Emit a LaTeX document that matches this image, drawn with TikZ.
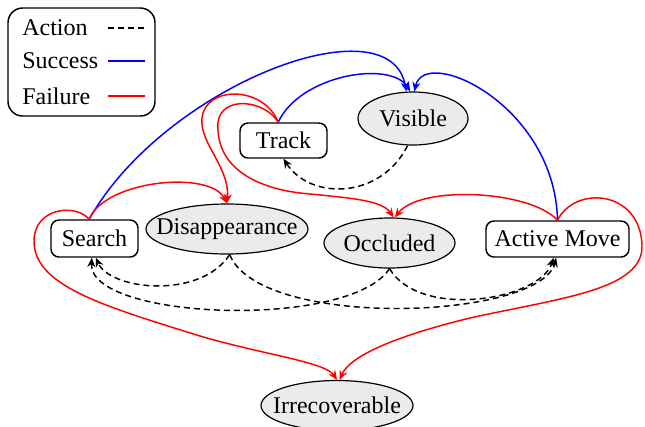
\documentclass[tikz,border=0pt]{standalone}
\usepackage{fontspec}
\setmainfont{Liberation Serif}
\usetikzlibrary{shapes.geometric,arrows.meta}
\definecolor{nodegray}{HTML}{EBEBEB}
\tikzset{
  every node/.style={font=\fontsize{18}{20}\selectfont},
  statebox/.style={draw, line width=1.1pt, rounded corners=6pt, inner sep=0pt, fill=white},
  stateell/.style={draw, ellipse, line width=0.9pt, fill=nodegray, inner sep=0pt},
  act/.style={draw=black, line width=1.1pt, dash pattern=on 4.5pt off 3pt, -{Stealth[length=7pt,width=6pt]}},
  succ/.style={draw=blue, line width=1.1pt, -{Stealth[length=7pt,width=6pt]}},
  fail/.style={draw=red, line width=1.1pt, -{Stealth[length=7pt,width=6pt]}},
  legtext/.style={anchor=west, inner sep=0pt},
}
\begin{document}
\begin{tikzpicture}[x=0.75pt,y=-0.75pt]
\useasboundingbox (0,0) rectangle (645,426);
% legend
\node[draw, line width=1.1pt, rounded corners=11pt, minimum width=110.25pt, minimum height=81pt, inner sep=0pt] (legend) at (81.5,62) {};
\node[legtext] (lA) at (22,28) {Action};
\node[legtext] (lS) at (22,61) {Success};
\node[legtext] (lF) at (22,96) {Failure};
\coordinate (a1) at (108,28); \coordinate (a2) at (145,28);
\coordinate (s1) at (108,61); \coordinate (s2) at (145,61);
\coordinate (f1) at (108,96); \coordinate (f2) at (145,96);
\draw[line width=1.1pt, dash pattern=on 4.5pt off 3pt] (a1) -- (a2);
\draw[line width=1.1pt, blue] (s1) -- (s2);
\draw[line width=1.1pt, red] (f1) -- (f2);
% nodes
\node[statebox, minimum width=65.25pt, minimum height=26.25pt] (track) at (283.5,140.5) {Track};
\node[stateell, minimum width=82.5pt, minimum height=39.75pt] (visible) at (413,118.5) {};
\node (visibleT) at (visible) {Visible};
\node[statebox, minimum width=65.25pt, minimum height=27.75pt] (search) at (94.5,238.5) {Search};
\node[stateell, minimum width=121.5pt, minimum height=37.5pt] (disap) at (227,229) {};
\node (disapT) at (disap) {Disappearance};
\node[stateell, minimum width=98.25pt, minimum height=37.5pt] (occl) at (389.5,243) {};
\node (occlT) at (occl) {Occluded};
\node[statebox, minimum width=107.25pt, minimum height=27pt] (active) at (557.5,239) {Active Move};
\node[stateell, minimum width=114pt, minimum height=37.5pt] (irrec) at (337,405.5) {};
\node (irrecT) at (irrec) {Irrecoverable};
% anchor points
\coordinate (sT) at ([xshift=-4pt]search.north);
\coordinate (tT) at ([xshift=-4pt]track.north);
\coordinate (aT) at (active.north);
% success
\draw[succ] (sT) .. controls (165,85) and (390,0) .. ([xshift=-5pt]visible.north);
\draw[succ] (tT) .. controls (300,75) and (390,60) .. ([xshift=-2pt]visible.north);
\draw[succ] (aT) .. controls (555,105) and (425,45) .. ([xshift=1pt]visible.north);
% failure
\draw[fail] (sT) .. controls (105,180) and (210,170) .. (disap.north);
\draw[fail] (sT) .. controls (75,203) and (35,208) .. (34,240)
  .. controls (33,285) and (100,305) .. (200,336)
  .. controls (265,355) and (325,362) .. (irrec.north);
\draw[fail] (tT) .. controls (265,88) and (212,85) .. (203,113)
  .. controls (195,140) and (230,165) .. (disap.north);
\draw[fail] (tT) .. controls (265,100) and (222,95) .. (218,122)
  .. controls (215,170) and (260,188) .. (300,193)
  .. controls (350,198) and (382,200) .. ([xshift=3pt]occl.north);
\draw[fail] (aT) .. controls (530,190) and (420,185) .. ([xshift=4pt]occl.north);
\draw[fail] (aT) .. controls (575,185) and (640,190) .. (642,245)
  .. controls (644,290) and (560,298) .. (470,318)
  .. controls (400,335) and (350,355) .. ([xshift=2pt]irrec.north);
% actions
\draw[act] ([xshift=-4pt]visible.south) .. controls (380,200) and (310,200) .. (track.south);
\draw[act] ([xshift=2pt]disap.south) .. controls (200,300) and (110,290) .. ([xshift=1pt]search.south);
\draw[act] ([xshift=2pt]disap.south) .. controls (260,330) and (540,320) .. ([xshift=-1pt]active.south);
\draw[act] (occl.south) .. controls (350,330) and (88,320) .. ([xshift=-2pt]search.south);
\draw[act] (occl.south) .. controls (420,320) and (540,300) .. ([xshift=-3pt]active.south);
\end{tikzpicture}
\end{document}
